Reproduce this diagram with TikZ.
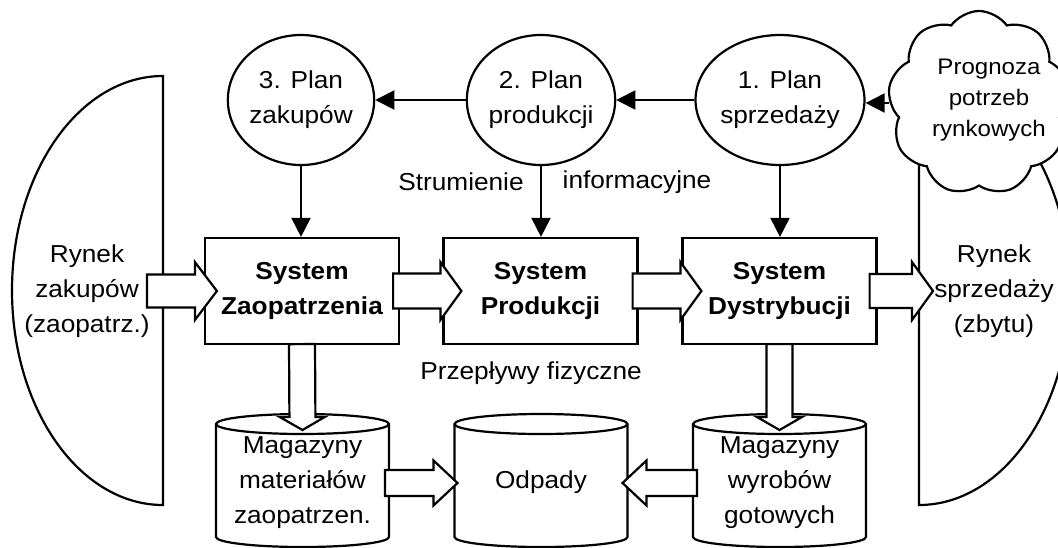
\documentclass[tikz,border=0pt]{standalone}
\usepackage{fontspec}
\setmainfont{Liberation Sans}[FakeStretch=1.07]
\usetikzlibrary{arrows.meta,shapes.geometric,shapes.symbols,calc}

\tikzset{
  txt/.style={font=\fontsize{24.5}{35}\selectfont, align=center, inner sep=0pt},
  boldtxt/.style={font=\fontsize{24.5}{35}\selectfont\bfseries, align=center, inner sep=0pt},
  outline/.style={draw, line width=2.2pt, fill=white},
  plan/.style={outline, ellipse, minimum width=145pt, minimum height=130pt, inner sep=0pt, txt},
  sysbox/.style={outline, rectangle, minimum width=194pt, minimum height=106pt, boldtxt},
  blk/.style={draw, line width=2.2pt, fill=white, line join=miter},
  arr/.style={line width=2pt, -{Triangle[length=19pt,width=19pt]}},
  cloudshape/.style={cloud, draw, line width=2.2pt, fill=white, cloud puffs=9,
    cloud puff arc=110, aspect=1, minimum width=182pt, minimum height=184pt, inner sep=0pt},
}

% block arrow: start point, tip point, shaft half width, head half width, head length
\newcommand\blockarrow[5]{%
  \path #1 coordinate (baA) #2 coordinate (baB);
  \coordinate (baC) at ($(baB)!#5pt!(baA)$);
  \draw[blk] ($(baA)!#3pt!90:(baB)$) -- ($(baC)!#3pt!90:(baB)$) -- ($(baC)!#4pt!90:(baB)$)
    -- (baB) -- ($(baC)!#4pt!-90:(baB)$) -- ($(baC)!#3pt!-90:(baB)$) -- ($(baA)!#3pt!-90:(baB)$) -- cycle;
}
% cylinder outline centred at x = #1
\newcommand\cylinderat[1]{%
  \draw[outline] ({#1-86.5},424) -- ({#1-86.5},537)
    arc[start angle=180, end angle=0, x radius=86.5, y radius=10]
    -- ({#1+86.5},424)
    arc[start angle=0, end angle=-180, x radius=86.5, y radius=10] -- cycle;
  \draw[line width=2.2pt] ({#1-86.5},424) arc[start angle=180, end angle=0, x radius=86.5, y radius=10];
}

\begin{document}
\begin{tikzpicture}[x=1pt,y=-1pt]
\useasboundingbox (0,0) rectangle (1058,547);
\fill[white] (0,0) rectangle (1058,547);
\clip (0,0) rectangle (1058,547);

% markets
\draw[outline] (163,76) arc[start angle=-90, end angle=-270, x radius=151, y radius=214.5] -- cycle;
\draw[outline] (919,76) arc[start angle=-90, end angle=90, x radius=151, y radius=214.5] -- cycle;
\coordinate (lz) at (163,291);
\coordinate (rs) at (919,291);
\node[txt] (lztxt) at (87,291) {Rynek\\zakupów\\(zaopatrz.)};
\node[txt] (rstxt) at (994,291) {Rynek\\sprzedaży\\(zbytu)};

% cloud
\node[cloudshape] (cloud) at (979,103) {};
\node[txt, font=\fontsize{22.5}{31}\selectfont] (cloudtxt) at (989,100) {Prognoza\\potrzeb\\rynkowych};

% plans
\node[plan] (p3) at (301,100) {3. Plan\\zakupów};
\node[plan] (p2) at (541,100) {2. Plan\\produkcji};
\node[plan] (p1) at (780,100) {1. Plan\\sprzedaży};

% systems
\node[sysbox] (b1) at (302,291) {System\\Zaopatrzenia};
\node[sysbox] (b2) at (540.5,291) {System\\Produkcji};
\node[sysbox] (b3) at (779.5,291) {System\\Dystrybucji};

% storages
\cylinderat{302.5}
\cylinderat{541}
\cylinderat{779.5}
\coordinate (c1top) at (302.5,424);
\coordinate (c3top) at (779.5,424);
\node[txt] (c1) at (302.5,483) {Magazyny\\materiałów\\zaopatrzen.};
\node[txt] (c2) at (541,482) {Odpady};
\node[txt] (c3) at (779.5,483) {Magazyny\\wyrobów\\gotowych};
\coordinate (c1e) at (389,483);
\coordinate (c2w) at (454.5,483);
\coordinate (c2e) at (627.5,483);
\coordinate (c3w) at (693,483);

% physical flows
\blockarrow{($(lz)+(-16,0)$)}{($(b1.west)+(13,0)$)}{16.5}{29}{22}
\blockarrow{($(b1.east)+(-7,0)$)}{($(b2.west)+(19,0)$)}{17.5}{29}{21}
\blockarrow{($(b2.east)+(-6,0)$)}{($(b3.west)+(20,0)$)}{17.5}{29}{21}
\blockarrow{($(b3.east)+(-8,0)$)}{($(rs)+(14,0)$)}{17}{29}{21}
\blockarrow{($(b1.south)+(0,-1)$)}{($(c1top)+(0,6)$)}{13}{22.5}{13}
\blockarrow{($(b3.south)+(0,-1)$)}{($(c3top)+(0,6)$)}{13}{22.5}{13}
\blockarrow{($(c1e)+(-4,0)$)}{($(c2w)+(3,0)$)}{13}{22.5}{24}
\blockarrow{($(c3w)+(4,0)$)}{($(c2e)+(-5,0)$)}{13}{22.5}{24}

% information flows
\draw[arr] (cloud.west) -- (cloud.west -| p1.east);
\draw[arr] (p1.west) -- (p2.east);
\draw[arr] (p2.west) -- (p3.east);
\draw[arr] (p3.south) -- (p3.south |- b1.north);
\draw[arr] (p2.south) -- (p2.south |- b2.north);
\draw[arr] (p1.south) -- (p1.south |- b3.north);

% labels
\node[txt] (lbl1) at (461,182) {Strumienie};
\node[txt] (lbl2) at (637,182) {informacyjne};
\node[txt] (lbl3) at (531,373) {Przepływy fizyczne};
\end{tikzpicture}
\end{document}
